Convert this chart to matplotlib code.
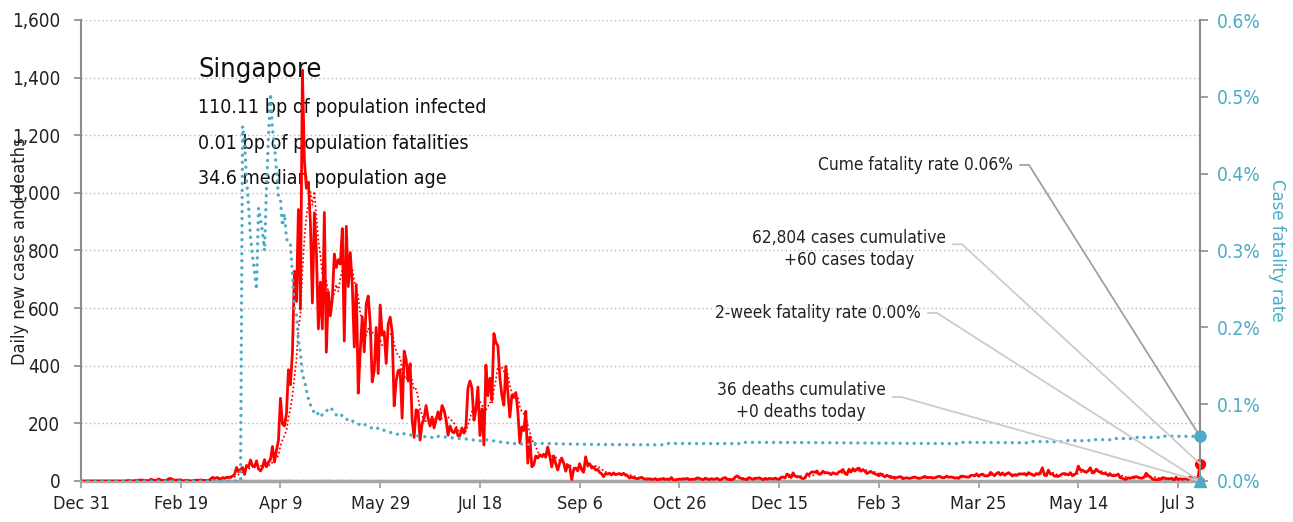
import matplotlib
matplotlib.use("Agg")
import matplotlib.pyplot as plt
import matplotlib.dates as mdates
import pandas as pd
from matplotlib import font_manager
from matplotlib.ticker import FuncFormatter

# daily new cases, one list per month
dec19 = [0]
jan20 = [0] * 22 + [1, 2, 0, 1, 1, 2, 3, 3, 3]
feb20 = [2, 1, 0, 6, 4, 2, 3, 7, 3, 2, 2, 3, 8, 9, 5, 3, 2, 4, 3, 1, 1, 3, 1, 0, 1, 2, 3, 2, 4]
mar20 = [2, 2, 2, 2, 7, 13, 8, 12, 10, 6, 12, 9, 13, 12, 14, 17, 23, 47, 32, 40, 47, 23, 54, 49,
         73, 52, 49, 70, 42, 35, 47]
apr20 = [74, 49, 65, 75, 120, 66, 106, 142, 287, 198, 191, 233, 386, 334, 447, 728, 623, 942, 596,
         1426, 1111, 1016, 1037, 897, 618, 931, 799, 528, 690, 528]
may20 = [932, 447, 657, 573, 632, 788, 741, 768, 753, 876, 486, 884, 675, 793, 682, 465, 682, 305,
         451, 570, 448, 614, 642, 548, 344, 383, 533, 373, 611, 506, 518]
jun20 = [408, 544, 569, 517, 261, 347, 383, 386, 218, 451, 422, 347, 407, 214, 151, 247, 244, 142,
         199, 218, 262, 218, 191, 222, 184, 213, 240, 213, 262, 246]
jul20 = [215, 159, 191, 172, 167, 183, 157, 158, 184, 166, 191, 322, 347, 322, 211, 248, 326, 158,
         250, 125, 402, 296, 357, 281, 512, 481, 469, 359, 297, 263, 398]
aug20 = [307, 222, 298, 290, 307, 242, 132, 188, 175, 242, 62, 153, 49, 56, 87, 80, 91, 86, 93, 83,
         118, 87, 49, 87, 60, 38, 63, 80, 62, 34, 56]
sep20 = [50, 5, 40, 45, 35, 60, 40, 30, 84, 55, 60, 45, 49, 38, 40, 30, 25, 15, 26, 24, 27, 21, 28,
         22, 24, 26, 21, 27, 20, 18]
oct20 = [10, 14, 11, 9, 8, 10, 13, 8, 7, 6, 8, 5, 6, 8, 3, 7, 6, 9, 5, 7, 5, 12, 4, 3, 5, 7, 6, 8,
         7, 9, 5]
nov20 = [6, 6, 7, 11, 9, 6, 5, 10, 7, 5, 8, 6, 7, 9, 4, 5, 10, 12, 6, 5, 4, 6, 14, 18, 12, 9, 7, 6,
         5, 12]
dec20 = [8, 6, 10, 9, 11, 8, 4, 9, 6, 9, 8, 7, 10, 7, 6, 13, 14, 11, 24, 20, 12, 28, 17, 14, 15, 11,
         8, 11, 25, 22, 30]
jan21 = [32, 30, 35, 23, 25, 34, 28, 29, 27, 22, 29, 25, 24, 32, 34, 40, 26, 22, 41, 31, 43, 35, 42,
         45, 34, 40, 34, 26, 30, 33, 28]
feb21 = [25, 22, 18, 25, 19, 14, 20, 16, 12, 13, 9, 12, 14, 15, 8, 10, 11, 9, 10, 12, 14, 11, 9, 10,
         13, 16, 12, 12]
mar21 = [13, 10, 11, 14, 16, 15, 11, 12, 17, 13, 14, 13, 10, 11, 9, 16, 17, 15, 14, 13, 19, 20, 18,
         25, 16, 22, 24, 18, 17, 19, 30]
apr21 = [24, 18, 26, 30, 21, 28, 20, 25, 29, 23, 17, 22, 19, 24, 25, 24, 26, 20, 29, 25, 21, 19, 26,
         23, 30, 46, 20, 19, 38, 24]
may21 = [25, 17, 17, 16, 20, 25, 26, 24, 21, 29, 18, 22, 27, 52, 38, 38, 33, 30, 36, 46, 28, 30, 41,
         34, 30, 26, 26, 25, 19, 24, 18]
jun21 = [18, 20, 24, 11, 11, 6, 6, 11, 9, 12, 14, 15, 13, 10, 10, 13, 27, 19, 14, 8, 4, 5, 5, 5, 11,
         11, 8, 8, 8, 9]
jul21 = [2, 13, 5, 8, 6, 7, 9, 5, 14, 9, 13, 9, 10, 60]

# deaths: reporting day and count
death_days = ["2020-03-21", "2020-03-29", "2020-04-02", "2020-04-03", "2020-04-04", "2020-04-09",
              "2020-04-11", "2020-04-13", "2020-04-14", "2020-04-17", "2020-04-21", "2020-04-27",
              "2020-04-30", "2020-05-01", "2020-05-02", "2020-05-03", "2020-05-04", "2020-05-08",
              "2020-05-10", "2020-05-14", "2020-05-20", "2020-05-28", "2020-06-10", "2020-06-25",
              "2020-07-20", "2020-08-15", "2020-10-20", "2020-11-28", "2021-03-16", "2021-04-20",
              "2021-05-08", "2021-05-20", "2021-06-01", "2021-06-12", "2021-06-24"]
death_counts = [2, 1, 1, 1, 1, 1, 1, 1, 1, 1, 1, 1, 1, 1, 1, 1, 1, 1, 1, 1, 1, 1, 1, 1, 1, 1, 1, 1,
                1, 1, 1, 1, 1, 1, 1]

country = "Singapore"
bp_infected = 110.11
bp_fatalities = 0.01
median_age = 34.6
cases_cumulative = 62804

# fonts: a narrow face if there is one, else condensed DejaVu
names = {f.name for f in font_manager.fontManager.ttflist}
if "Liberation Sans Narrow" in names:
    plt.rcParams["font.family"] = "Liberation Sans Narrow"
else:
    plt.rcParams["font.family"] = "DejaVu Sans"
    plt.rcParams["font.stretch"] = "condensed"

RED = "#ff0000"
TEAL = "#4bacc6"
INK = "#222222"

start = pd.Timestamp("2019-12-31")
daily = (dec19 + jan20 + feb20 + mar20 + apr20 + may20 + jun20 + jul20 + aug20 + sep20 + oct20
         + nov20 + dec20 + jan21 + feb21 + mar21 + apr21 + may21 + jun21 + jul21)
idx = pd.date_range(start, periods=len(daily), freq="D")
cases = pd.Series(daily, index=idx, dtype=float)
deaths = pd.Series(0.0, index=idx)
deaths.loc[pd.to_datetime(death_days)] = death_counts

avg7 = cases.rolling(7).mean()
cfr = (deaths.cumsum() / cases.cumsum()).fillna(0)
cfr_2wk = deaths.iloc[-14:].sum() / cases.iloc[-14:].sum()
last = idx[-1]
last_num = mdates.date2num(last)

W, H = 1293, 522
fig = plt.figure(figsize=(W / 100, H / 100), dpi=100)
ax = fig.add_axes([81 / W, 1 - 481 / H, (1200 - 81) / W, (481 - 20) / H])
ax2 = ax.twinx()

ax.plot(idx, deaths, color="#b0b0b0", lw=1.5, zorder=2)
ax.plot(idx, avg7, color=RED, lw=1.5, ls=(0, (0.01, 2.0)), dash_capstyle="round", zorder=3)
ax.plot(idx, cases, color=RED, lw=2.0, zorder=4)
ax.plot([last], [deaths.iloc[-1]], "o", color="#999999", ms=6, clip_on=False, zorder=5)
ax.plot([last], [cases.iloc[-1]], "o", color=RED, ms=7, clip_on=False, zorder=6)

ax2.plot(idx, cfr, color=TEAL, lw=2.4, ls=(0, (0.01, 2.1)), dash_capstyle="round")
ax2.plot([last], [cfr.iloc[-1]], "o", color=TEAL, ms=8, clip_on=False, zorder=6)
ax2.plot([last], [cfr_2wk], "^", color=TEAL, ms=9, clip_on=False, zorder=6)

ax.set_xlim(start, last)
ax.set_ylim(0, 1600)
ax2.set_ylim(0, 0.006)
ax.set_yticks(range(0, 1601, 200))
ax2.set_yticks([i / 1000 for i in range(7)])
ax.yaxis.set_major_formatter(FuncFormatter(lambda v, p: f"{v:,.0f}"))
ax2.yaxis.set_major_formatter(FuncFormatter(lambda v, p: f"{v * 100:.1f}%"))

tick_dates = pd.date_range(start, periods=12, freq="50D")
ax.set_xticks(tick_dates)
ax.set_xticklabels([f"{d:%b} {d.day}" for d in tick_dates])

ax.yaxis.grid(True, ls=(0, (1, 2)), color="#b5b5b5", lw=1)
ax.set_axisbelow(True)

for s in ("top", "right"):
    ax.spines[s].set_visible(False)
for s in ("top", "left", "bottom"):
    ax2.spines[s].set_visible(False)
ax.spines["left"].set_color("#8c8c8c")
ax.spines["left"].set_linewidth(1.5)
ax.spines["bottom"].set_color("#a6a6a6")
ax.spines["bottom"].set_linewidth(2.5)
ax2.spines["right"].set_color("#8c8c8c")
ax2.spines["right"].set_linewidth(1.5)

ax.tick_params(axis="y", length=5, width=1.2, color="#8c8c8c", pad=10, labelsize=13.5,
               labelcolor=INK)
ax.tick_params(axis="x", length=5, width=1.2, color="#999999", pad=5, labelsize=13,
               labelcolor=INK)
ax2.tick_params(axis="y", length=6, width=1.2, color="#8c8c8c", pad=6, labelsize=13.8,
                labelcolor=TEAL)

fig.text(20 / W, 1 - 251 / H, "Daily new cases and deaths", rotation=90, ha="center",
         va="center", fontsize=13, color=INK)
fig.text(1277 / W, 1 - 250 / H, "Case fatality rate", rotation=-90, ha="center", va="center",
         fontsize=13.2, color=TEAL)

# headline block, kept underneath the lines
info = [(country, 77, 19.5), (f"{bp_infected:.2f} bp of population infected", 113, 14),
        (f"{bp_fatalities:.2f} bp of population fatalities", 149, 14),
        (f"{median_age} median population age", 184, 14)]
for txt, base, size in info:
    ax.text(198 / W, 1 - base / H, txt, transform=fig.transFigure, ha="left", va="baseline",
            fontsize=size, color="#111111", zorder=1)

# call-outs to the latest values
callouts = [
    (f"Cume fatality rate {cfr.iloc[-1]:.2%}", (last_num, cfr.iloc[-1]), ax2.transData,
     (1013, H - 165), "right", 0.5, "#a0a0a0"),
    (f"{cases_cumulative:,} cases cumulative\n+{cases.iloc[-1]:.0f} cases today",
     (last_num, cases.iloc[-1]), ax.transData, (849, H - 249), "center", 0.62, "#cccccc"),
    (f"2-week fatality rate {cfr_2wk:.2%}", (last_num, cfr_2wk), ax2.transData,
     (921, H - 313), "right", 0.5, "#cccccc"),
    (f"{deaths.sum():.0f} deaths cumulative\n+{deaths.iloc[-1]:.0f} deaths today",
     (last_num, deaths.iloc[-1]), ax.transData, (801, H - 401), "center", 0.6, "#cccccc"),
]
for txt, xy, xyc, xytext, ha, ry, lc in callouts:
    ax2.annotate(txt, xy=xy, xycoords=xyc, xytext=xytext, textcoords="figure pixels",
                 ha=ha, va="center", multialignment="center", fontsize=12.4, color=INK,
                 linespacing=1.25, annotation_clip=False,
                 arrowprops=dict(arrowstyle="-", color=lc, lw=1.3, relpos=(1, ry),
                                 shrinkA=3, shrinkB=0,
                                 connectionstyle="arc,angleA=0,armA=16,angleB=0,armB=0,rad=0"))

fig.savefig("out.png", dpi=100)
